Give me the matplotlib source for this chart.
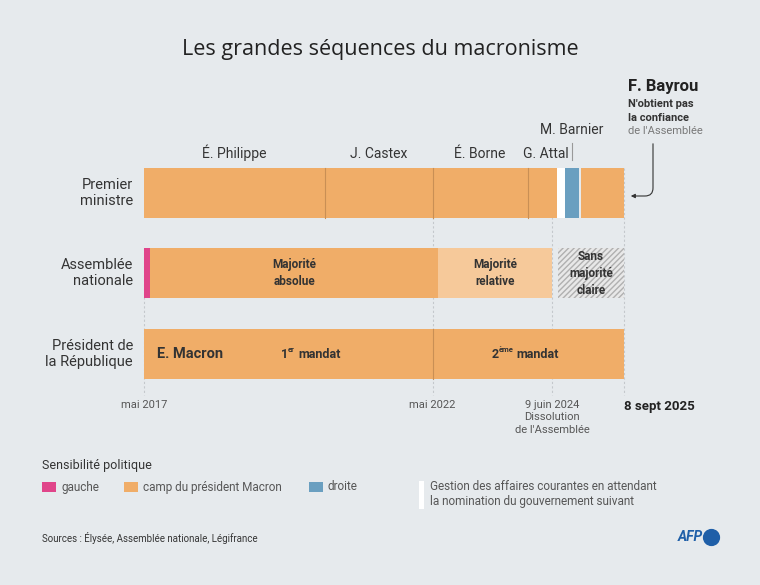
import matplotlib
matplotlib.use("Agg")
import matplotlib.pyplot as plt
from matplotlib.patches import FancyArrowPatch

# ---- data (decimal years) ----
rows = ["Premier\nministre", "Assemblée\nnationale", "Président de\nla République"]
pm_names = ["É. Philippe", "J. Castex", "É. Borne", "G. Attal", "M. Barnier", "F. Bayrou"]
pm_start = [2017.365, 2020.50, 2022.37, 2024.02, 2024.66, 2024.94]
pm_end   = [2020.50, 2022.37, 2024.02, 2024.52, 2024.91, 2025.69]
pm_camp  = ["macron", "macron", "macron", "macron", "droite", "macron"]
caretaker_start = [2024.52]
caretaker_end = [2024.66]
an_labels = ["", "Majorité\nabsolue", "Majorité\nrelative", "Sans\nmajorité\nclaire"]
an_start = [2017.365, 2017.47, 2022.47, 2024.54]
an_end   = [2017.47, 2022.47, 2024.44, 2025.69]
an_style = ["gauche", "macron", "relative", "hatch"]
pres_start = [2017.365, 2022.37]
pres_end = [2022.37, 2025.69]
tick_pos = [2017.365, 2022.37, 2024.44, 2025.69]
tick_labels = ["mai 2017", "mai 2022", "9 juin 2024\nDissolution\nde l'Assemblée", "8 sept 2025"]

BG = "#e6eaed"
COL = {"macron": "#f0ad68", "droite": "#6a9fc0", "gauche": "#e0458a", "relative": "#f6c99a"}
plt.rcParams["font.family"] = ["Roboto", "DejaVu Sans"]

fig = plt.figure(figsize=(7.6, 5.85), dpi=100, facecolor=BG)
ax = fig.add_axes([0, 0, 1, 1])
ax.set_facecolor(BG)
sc = 480 / (2025.69 - 2017.365)
x0 = 2017.365 - 144 / sc
ax.set_xlim(x0, x0 + 760 / sc)
ax.set_ylim(585, 0)
ax.axis("off")
def px(x):  # pixel x -> data
    return x0 + x / sc

Y = {"pm": (168, 218), "an": (248, 298), "pr": (329, 379)}

# guide lines
for t in tick_pos:
    ax.plot([t, t], [168 if t != 2017.365 else 248, 395], color="#c4c8cc", lw=0.8, ls=(0, (2, 2)), zorder=0)

# PM
y0, y1 = Y["pm"]
for s, e, c in zip(pm_start, pm_end, pm_camp):
    ax.barh((y0 + y1) / 2, e - s, left=s, height=y1 - y0, color=COL[c], zorder=2)
for s, e in zip(caretaker_start, caretaker_end):
    ax.barh((y0 + y1) / 2, e - s, left=s, height=y1 - y0, color="white", zorder=2)
for s in pm_start[1:4]:
    ax.plot([s, s], [y0, y1], color="#c98f55", lw=0.8, zorder=3)
for i in range(4):
    ax.text((pm_start[i] + pm_end[i]) / 2 + (0.06 if i == 3 else 0), 161, pm_names[i], ha="center", va="bottom", fontsize=10, color="#333")
bm = (pm_start[4] + pm_end[4]) / 2
ax.plot([bm, bm], [143, 160], color="#999", lw=0.8)
ax.text(bm, 137, pm_names[4], ha="center", va="bottom", fontsize=10, color="#333")
ax.text(px(628), 86, pm_names[5], ha="left", va="center", fontsize=12, fontweight="bold", color="#222")
ax.text(px(628), 104, "N'obtient pas", ha="left", va="center", fontsize=8, fontweight="bold", color="#333")
ax.text(px(628), 118, "la confiance", ha="left", va="center", fontsize=8, fontweight="bold", color="#333")
ax.text(px(628), 131, "de l'Assemblée", ha="left", va="center", fontsize=8, color="#777")
ax.add_patch(FancyArrowPatch((px(653), 141), (px(628), 196), connectionstyle="angle,angleA=-90,angleB=180,rad=8",
                             arrowstyle="-|>", mutation_scale=6, color="#333", lw=0.8, zorder=5))

# Assembly
y0, y1 = Y["an"]
for s, e, st, lab in zip(an_start, an_end, an_style, an_labels):
    if st == "hatch":
        ax.barh((y0 + y1) / 2, e - s, left=s, height=y1 - y0, color="#e8e8e8", hatch="//////",
                edgecolor="#b0b0b0", lw=0, zorder=2)
    else:
        ax.barh((y0 + y1) / 2, e - s, left=s, height=y1 - y0, color=COL[st], zorder=2)
    if lab:
        ax.text((s + e) / 2, (y0 + y1) / 2, lab, ha="center", va="center", fontsize=8.5, fontweight="bold",
                color="#333", zorder=4, linespacing=1.4)

# President
y0, y1 = Y["pr"]
for s, e in zip(pres_start, pres_end):
    ax.barh((y0 + y1) / 2, e - s, left=s, height=y1 - y0, color=COL["macron"], zorder=2)
ax.plot([pres_start[1]] * 2, [y0, y1], color="#c98f55", lw=0.8, zorder=3)
ym = (y0 + y1) / 2
ax.text(px(157), ym, "E. Macron", ha="left", va="center", fontsize=10.5, fontweight="bold", color="#333")
for xc, sup in [(px(281), "1"), (px(492), "2")]:
    ax.text(xc, ym, sup, ha="left", va="center", fontsize=9, fontweight="bold", color="#333")
ax.text(px(288), ym - 5, "er", ha="left", va="center", fontsize=5.5, fontweight="bold", color="#333")
ax.text(px(298), ym, "mandat", ha="left", va="center", fontsize=9, fontweight="bold", color="#333")
ax.text(px(499), ym - 5, "ème", ha="left", va="center", fontsize=5.5, fontweight="bold", color="#333")
ax.text(px(516), ym, "mandat", ha="left", va="center", fontsize=9, fontweight="bold", color="#333")

# row labels
for (k, (a, b)), lab in zip(Y.items(), rows):
    ax.text(px(133), (a + b) / 2, lab, ha="right", va="center", fontsize=10.5, color="#333", linespacing=1.15)

# ticks
for t, lab in zip(tick_pos, tick_labels):
    bold = lab.startswith("8 sept")
    ax.text(t, 400, lab, ha="center" if not bold else "left", va="top", fontsize=8 if not bold else 9.5,
            fontweight="bold" if bold else "normal", color="#555" if not bold else "#222", linespacing=1.3)

# title
fig.text(0.5, 1 - 49 / 585, "Les grandes séquences du macronisme", ha="center", va="center", fontsize=15.5,
         color="#222", family="Open Sans")

# legend
fig.text(42 / 760, 1 - 466 / 585, "Sensibilité politique", ha="left", va="center", fontsize=9, color="#333")
leg = [("gauche", COL["gauche"], 42), ("camp du président Macron", COL["macron"], 124), ("droite", COL["droite"], 309)]
for lab, c, x in leg:
    ax.barh(487, px(x + 14) - px(x), left=px(x), height=10, color=c)
    ax.text(px(x + 19), 487, lab, ha="left", va="center", fontsize=8.5, color="#555")
ax.barh(495, px(424) - px(419), left=px(419), height=28, color="white")
ax.text(px(430), 494, "Gestion des affaires courantes en attendant\nla nomination du gouvernement suivant",
        ha="left", va="center", fontsize=8.5, color="#555", linespacing=1.2)
fig.text(42 / 760, 1 - 538 / 585, "Sources : Élysée, Assemblée nationale, Légifrance", ha="left", va="center", fontsize=7, color="#333")
fig.text(703 / 760, 1 - 537 / 585, "AFP", ha="right", va="center", fontsize=10, fontweight="bold", color="#1f5fa8", style="italic")
ax.scatter([px(711)], [537], s=130, color="#1f5fa8")

fig.savefig("out.png", dpi=100, facecolor=BG)
